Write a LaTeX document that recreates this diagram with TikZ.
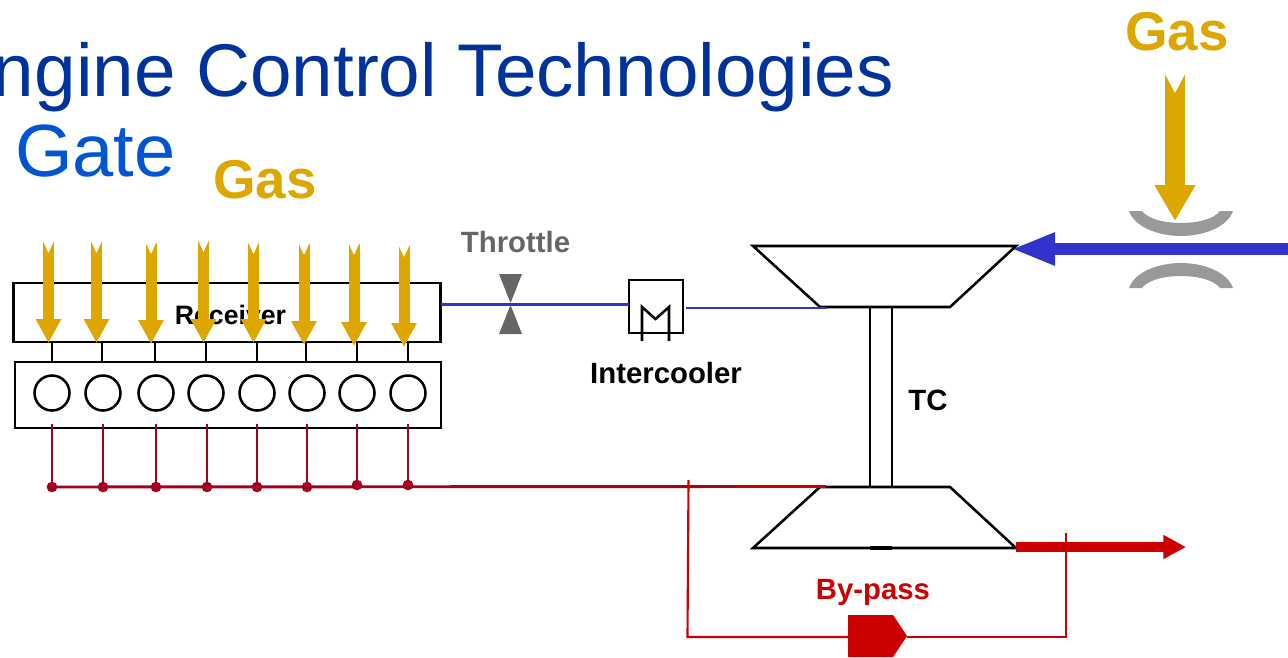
\documentclass[tikz,border=0pt]{standalone}
\usepackage{fontspec}
\setmainfont{Liberation Sans}
\usetikzlibrary{arrows.meta, positioning}

\definecolor{titleblue}{HTML}{00329B}
\definecolor{gateblue}{HTML}{0055D4}
\definecolor{gasgold}{HTML}{DDA600}
\definecolor{airblue}{HTML}{3333CC}
\definecolor{exhred}{HTML}{A50021}
\definecolor{hotred}{HTML}{CC0000}
\definecolor{ventgrey}{HTML}{999999}
\definecolor{valvegrey}{HTML}{666666}

\begin{document}
\begin{tikzpicture}[
    x=0.75pt,
    y=-0.75pt,
    box/.style={draw, line width=1.9pt, inner sep=0pt, outer sep=0pt, minimum width=#1},
    label/.style={font=\fontsize{22}{24}\selectfont\bfseries, inner sep=0pt, anchor=base},
    gastext/.style={font=\fontsize{41}{44}\selectfont\bfseries, text=gasgold, inner sep=0pt, anchor=base},
    bigtext/.style={inner sep=0pt},
    gasline/.style={draw=gasgold, line width=8.25pt, -{Triangle[length=18pt, width=18pt]}},
    pipe/.style={line width=1.9pt},
    airline/.style={draw=airblue, line width=2pt},
    exhline/.style={draw=exhred, line width=2.2pt},
    bypass/.style={draw=hotred, line width=1.6pt},
]

    \useasboundingbox (0,0) rectangle (1288,657);

    % titles
    \node[bigtext, anchor=base east, text=titleblue, font=\fontsize{56}{60}\selectfont] (title) at (894,96) {ngine Control Technologies};
    \node[bigtext, anchor=base west, text=gateblue, font=\fontsize{55.5}{58}\selectfont] (gate) at (15,176) {Gate};
    \node[gastext] (gasA) at (265,198) {Gas};
    \node[gastext] (gasB) at (1177,50) {Gas};

    % engine
    \node[box=320.25pt, minimum height=44.25pt, anchor=north west] (receiver) at (13.5,283) {};
    \node[label, font=\fontsize{20}{22}\selectfont\bfseries] (rectext) at (230.5,324) {Receiver};
    \node[box=319.5pt, minimum height=49.5pt, anchor=north west] (block) at (15,362) {};

    \foreach \i/\x/\s in {1/52/52, 2/103/102, 3/156/155, 4/206/206, 5/257/257, 6/307/306, 7/357/357, 8/408/408} {
        \node[draw, circle, line width=1.9pt, minimum size=26.25pt, inner sep=0pt, outer sep=0pt] (cyl\i) at (\x,393) {};
        \draw[pipe] (\s,342) -- (\s,362);
    }

    \coordinate (manifold) at (826,486.5);
    \coordinate (midpipe) at (736,486.5);
    \foreach \i/\x/\y in {1/52/487, 2/103/487, 3/156/487, 4/207/487, 5/257/487, 6/307/487, 7/357/485, 8/408/485} {
        \node[circle, fill=exhred, minimum size=8pt, inner sep=0pt] (dot\i) at (\x,\y) {};
        \draw[exhline] (\x,424) -- (dot\i.center);
    }
    \draw[exhline] (dot1.center) -- (midpipe);

    % gas inlets
    \foreach \i/\x/\t/\b in {1/48.5/242/343, 2/96.5/242/343, 3/151/243/344, 4/203.5/241/343, 5/253.5/243/343, 6/304/244/345, 7/354/244/346, 8/404/246/347} {
        \coordinate (gt\i) at (\x,\t);
        \coordinate (gb\i) at (\x,\b);
        \draw[gasline] (gt\i) -- (gb\i);
        \fill[white] (gt\i) ++(-5.5,-1) -- ++(5.5,12) -- ++(5.5,-12) -- cycle;
    }

    % throttle and cooler
    \node[label, text=valvegrey] (throttle) at (515.5,252) {Throttle};
    \node[box=40.5pt, minimum height=39.75pt, anchor=north west] (cooler) at (629,280) {};
    \node[label] (coolertext) at (666,383) {Intercooler};
    \draw[airline] (receiver.east |- 0,304.5) -- (cooler.west |- 0,304.5);
    \fill[valvegrey] (499,274) -- (522,274) -- (510.5,303) -- cycle;
    \fill[valvegrey] (499,334) -- (522,334) -- (510.5,305) -- cycle;
    \draw[pipe] (642,341) -- (642,307) -- (655.5,319) -- (669,307) -- (669,341);

    % turbocharger
    \draw[pipe] (753,246) -- (1016,246) -- (950,307) -- (820,307) -- cycle;
    \draw[pipe] (820,487) -- (950,487) -- (1016,548) -- (753,548) -- cycle;
    \node[label] (tc) at (928,410) {TC};
    \draw[pipe] (870,307) -- (870,487);
    \draw[pipe] (892,307) -- (892,487);
    \draw[line width=2.5pt] (870,548) -- (892,548);
    \draw[bypass, line width=2.2pt] (midpipe) -- (manifold);
    \coordinate (airin) at (686,308);
    \coordinate (airout) at (827,308);
    \draw[airline] (airin) -- (airout);

    % air path
    \coordinate (airstart) at (1288,249);
    \coordinate (airtip) at (1011,249);
    \draw[draw=airblue, line width=9pt, -{Triangle[length=33pt, width=22.5pt]}] (airstart) -- (airtip);
    \fill[ventgrey] (1129,211) .. controls (1135,228) and (1160,236) .. (1181,236) .. controls (1202,236) and (1227,228) .. (1233,211) -- (1220,211) .. controls (1214,219) and (1198,223) .. (1181,223) .. controls (1164,223) and (1148,219) .. (1142,211) -- cycle;
    \fill[ventgrey] (1129,288) .. controls (1135,271) and (1160,263) .. (1181,263) .. controls (1202,263) and (1227,271) .. (1233,288) -- (1220,288) .. controls (1214,280) and (1198,276) .. (1181,276) .. controls (1164,276) and (1148,280) .. (1142,288) -- cycle;
    \coordinate (gastop) at (1175,75);
    \coordinate (gasend) at (1175,221);
    \draw[draw=gasgold, line width=15pt, -{Triangle[length=27pt, width=29pt]}] (gastop) -- (gasend);
    \fill[white] (gastop) ++(-10,-1) -- ++(10,19) -- ++(10,-19) -- cycle;

    % exhaust and by-pass
    \coordinate (exhstart) at (1016,547);
    \coordinate (exhtip) at (1186,547);
    \draw[draw=hotred, line width=7.5pt, -{Triangle[length=17pt, width=17pt]}] (exhstart) -- (exhtip);
    \node[label, text=hotred] (bypasstext) at (873,599) {By-pass};
    \fill[hotred] (848,615) -- (893,615) -- (907,636) -- (893,657) -- (848,657) -- cycle;
    \coordinate (valvein) at (848,637);
    \coordinate (valveout) at (907,637);
    \coordinate (bpa) at (688.5,480);
    \coordinate (bpb) at (687.5,637);
    \coordinate (bpc) at (1066,637);
    \coordinate (bpd) at (1066,533);
    \draw[bypass] (bpa) -- (bpb) -- (valvein);
    \draw[bypass] (valveout) -- (bpc) -- (bpd);

\end{tikzpicture}
\end{document}
